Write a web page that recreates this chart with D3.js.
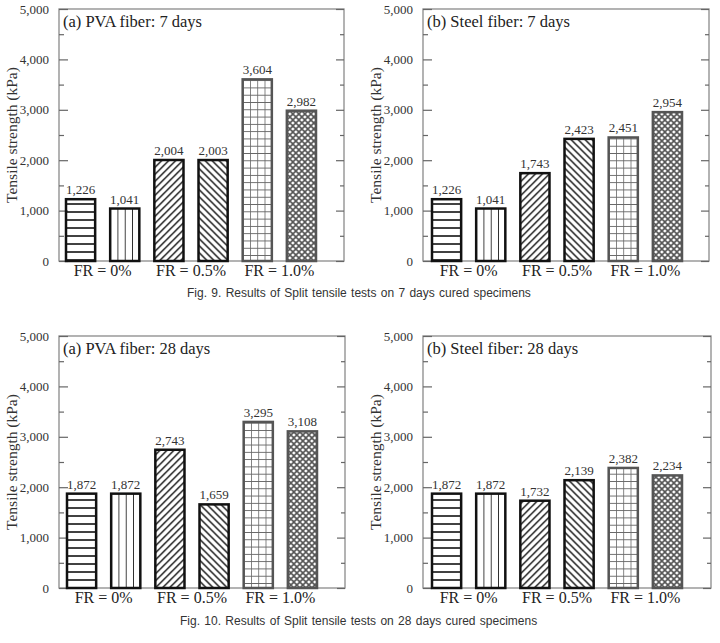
<!DOCTYPE html>
<html><head><meta charset="utf-8">
<script src="https://cdn.jsdelivr.net/npm/d3@7"></script>
<style>
html,body{margin:0;padding:0;background:#fff;}
svg{display:block;}
</style></head>
<body>
<svg id="chart" width="720" height="643"></svg>
<script>
// ---- data ----
const groups = ["FR = 0%", "FR = 0.5%", "FR = 1.0%"];
const barKeys = ["h", "v", "fwd", "back", "grid", "cross"];
const pva7 = [1226, 1041, 2004, 2003, 3604, 2982];
const steel7 = [1226, 1041, 1743, 2423, 2451, 2954];
const pva28 = [1872, 1872, 2743, 1659, 3295, 3108];
const steel28 = [1872, 1872, 1732, 2139, 2382, 2234];
const yTicks = [0, 1000, 2000, 3000, 4000, 5000];
const yMinor = [500, 1500, 2500, 3500, 4500];
const titles = ["(a) PVA fiber: 7 days", "(b) Steel fiber: 7 days", "(a) PVA fiber: 28 days", "(b) Steel fiber: 28 days"];
const yTitle = "Tensile strength (kPa)";
const captions = ["Fig. 9. Results of Split tensile tests on 7 days cured specimens",
                  "Fig. 10. Results of Split tensile tests on 28 days cured specimens"];

const panels = [
  {x0: 59, y0: 9, w: 285, h: 252, data: pva7, title: titles[0], bx: 7},
  {x0: 423, y0: 9, w: 286, h: 252, data: steel7, title: titles[1], bx: 9},
  {x0: 59, y0: 336, w: 286, h: 252, data: pva28, title: titles[2], bx: 8},
  {x0: 423, y0: 336, w: 288, h: 252, data: steel28, title: titles[3], bx: 9}
];

const svg = d3.select("#chart");
const defs = svg.append("defs");
const serif = "'Liberation Serif','Times New Roman',serif";
const fmt = d3.format(",");

function makePattern(id, key, bx, bw) {
  const p = defs.append("pattern").attr("id", id).attr("patternUnits", "userSpaceOnUse");
  if (key === "h") {
    p.attr("x", 0).attr("y", 0).attr("width", 10).attr("height", 8);
    p.append("line").attr("x1", 0).attr("x2", 10).attr("y1", 4).attr("y2", 4)
      .attr("stroke", "#111").attr("stroke-width", 1.6);
  } else if (key === "v") {
    const s = bw / 4;
    p.attr("x", bx).attr("y", 0).attr("width", s).attr("height", 10);
    p.append("line").attr("x1", 0).attr("x2", 0).attr("y1", 0).attr("y2", 10)
      .attr("stroke", "#111").attr("stroke-width", 1.6);
  } else if (key === "fwd") {
    const s = 7;
    p.attr("x", bx).attr("y", 0).attr("width", s).attr("height", s);
    p.append("path").attr("d", `M0,${s} L${s},0 M-1,1 L1,-1 M${s-1},${s+1} L${s+1},${s-1}`)
      .attr("stroke", "#111").attr("stroke-width", 1.4);
  } else if (key === "back") {
    const s = 7;
    p.attr("x", bx).attr("y", 0).attr("width", s).attr("height", s);
    p.append("path").attr("d", `M0,0 L${s},${s} M-1,${s-1} L1,${s+1} M${s-1},-1 L${s+1},1`)
      .attr("stroke", "#111").attr("stroke-width", 1.4);
  } else if (key === "grid") {
    const s = bw / 4;
    p.attr("x", bx).attr("y", 0).attr("width", s).attr("height", s);
    p.append("path").attr("d", `M0,0 L0,${s} M0,0 L${s},0`)
      .attr("stroke", "#666").attr("stroke-width", 1.6);
  } else if (key === "cross") {
    const s = 6;
    p.attr("x", bx).attr("y", 0).attr("width", s).attr("height", s);
    p.append("path").attr("d", `M0,0 L${s},${s} M0,${s} L${s},0`)
      .attr("stroke", "#555").attr("stroke-width", 1.6);
  }
}

panels.forEach((P, pi) => {
  const g = svg.append("g");
  const y = d3.scaleLinear().domain([0, 5000]).range([P.y0 + P.h, P.y0]);
  const x = d3.scaleBand().domain(d3.range(6)).range([P.x0 + P.bx, P.x0 + P.bx + 250])
    .paddingInner(0.34).paddingOuter(0);
  const bw = x.bandwidth();

  // frame
  g.append("rect").attr("x", P.x0).attr("y", P.y0).attr("width", P.w).attr("height", P.h)
    .attr("fill", "none").attr("stroke", "#8a8a8a").attr("stroke-width", 1.3);

  // left axis major
  const la = g.append("g").attr("transform", `translate(${P.x0},0)`)
    .call(d3.axisLeft(y).tickValues(yTicks).tickSize(-9).tickPadding(10).tickFormat(fmt));
  la.attr("font-family", serif).attr("font-size", 13);
  la.select(".domain").remove();
  la.selectAll(".tick line").attr("stroke", "#666").attr("stroke-width", 1.2);
  la.selectAll(".tick text").attr("fill", "#333");
  const lm = g.append("g").attr("transform", `translate(${P.x0},0)`)
    .call(d3.axisLeft(y).tickValues(yMinor).tickSize(-5).tickFormat(""));
  lm.select(".domain").remove();
  lm.selectAll(".tick line").attr("stroke", "#666").attr("stroke-width", 1.2);
  // right axis
  const ra = g.append("g").attr("transform", `translate(${P.x0 + P.w},0)`)
    .call(d3.axisRight(y).tickValues(yTicks).tickSize(-8).tickFormat(""));
  ra.select(".domain").remove();
  ra.selectAll(".tick line").attr("stroke", "#666").attr("stroke-width", 1.2);
  const rm = g.append("g").attr("transform", `translate(${P.x0 + P.w},0)`)
    .call(d3.axisRight(y).tickValues(yMinor).tickSize(-4).tickFormat(""));
  rm.select(".domain").remove();
  rm.selectAll(".tick line").attr("stroke", "#666").attr("stroke-width", 1.2);

  // y title
  g.append("text").attr("transform", `translate(${P.x0 - 42},${P.y0 + P.h / 2}) rotate(-90)`)
    .attr("text-anchor", "middle").attr("font-family", serif).attr("font-size", 15.5)
    .attr("fill", "#333").text(yTitle);

  // patterns
  barKeys.forEach((k, i) => makePattern(`p${pi}_${i}`, k, x(i), bw));

  // bars
  g.selectAll("rect.bar").data(P.data).join("rect").attr("class", "bar")
    .attr("x", (d, i) => x(i)).attr("width", bw)
    .attr("y", d => y(d)).attr("height", d => y(0) - y(d))
    .attr("fill", (d, i) => `url(#p${pi}_${i})`)
    .attr("stroke", (d, i) => i >= 4 ? "#555" : "#111")
    .attr("stroke-width", 2.5);

  // value labels
  g.selectAll("text.val").data(P.data).join("text").attr("class", "val")
    .attr("x", (d, i) => x(i) + bw / 2).attr("y", d => y(d) - 5)
    .attr("text-anchor", "middle").attr("font-family", serif).attr("font-size", 13)
    .attr("fill", "#333").text(d => fmt(d));

  // group labels
  g.selectAll("text.grp").data(groups).join("text").attr("class", "grp")
    .attr("x", (d, j) => (x(2 * j) + x(2 * j + 1) + bw) / 2).attr("y", P.y0 + P.h + 15)
    .attr("text-anchor", "middle").attr("font-family", serif).attr("font-size", 16)
    .attr("fill", "#222").text(d => d);

  // title
  g.append("text").attr("x", P.x0 + 4).attr("y", P.y0 + 18)
    .attr("font-family", serif).attr("font-size", 16.5).attr("fill", "#222").text(P.title);
});

// captions
svg.append("text").attr("x", 187).attr("y", 297).attr("font-family", "'Liberation Sans',Arial,sans-serif")
  .attr("font-size", 12).attr("fill", "#333").attr("word-spacing", 1).text(captions[0]);
svg.append("text").attr("x", 180).attr("y", 625).attr("font-family", "'Liberation Sans',Arial,sans-serif")
  .attr("font-size", 12).attr("fill", "#333").attr("word-spacing", 1).text(captions[1]);
</script>
</body></html>
